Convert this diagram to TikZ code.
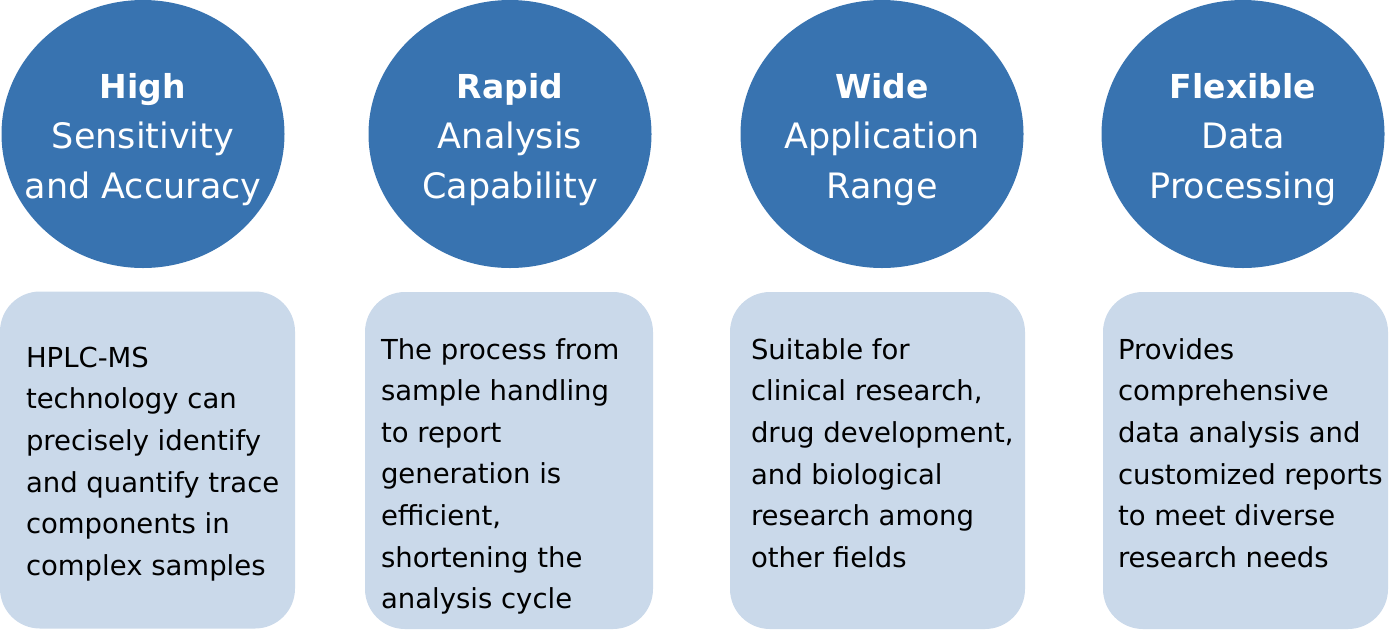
\documentclass[tikz,border=0pt]{standalone}
\usepackage{fontspec}
\setmainfont{DejaVu Sans}
\usetikzlibrary{shapes.geometric}
\definecolor{circblue}{HTML}{3873B0}
\definecolor{cardblue}{HTML}{CAD9EA}
\newcommand{\headword}[1]{{\fontsize{33}{50}\selectfont\bfseries #1}}

\begin{document}
\begin{tikzpicture}[x=1pt,y=-1pt,
  head/.style={ellipse, fill=circblue, minimum width=283pt, minimum height=268pt,
    inner sep=0pt},
  headtext/.style={inner sep=0pt, text=white, align=center, text height=136pt,
    text depth=8pt, font=\fontsize{35}{50}\selectfont},
  card/.style={rectangle, rounded corners=40pt, fill=cardblue, inner sep=0pt,
    minimum height=337pt},
  desc/.style={anchor=base west, align=left, inner sep=0pt,
    font=\fontsize{27.5}{41.6}\selectfont}]
\useasboundingbox (0,0) rectangle (1399,630);
% circles on top
\foreach \i/\cx/\ttl/\rest in {1/143/High/{Sensitivity\\and Accuracy},
    2/510/Rapid/{Analysis\\Capability},
    3/882/Wide/{Application\\Range},
    4/1243/Flexible/{Data\\Processing}}
{
  \node[head] (c\i) at (\cx,134) {};
  \node[headtext] (t\i) at (c\i.center) {\headword{\ttl}\\\rest};
}
% cards below
\node[card, minimum width=295pt] (b1) at (147.5,460) {};
\node[card, minimum width=288pt] (b2) at (509,460.5) {};
\node[card, minimum width=295pt] (b3) at (877.5,460.5) {};
\node[card, minimum width=285pt] (b4) at (1245.5,460.5) {};
% texts sit on their last baseline
\node[desc] (d1) at ([shift={(26,-53.5)}]b1.south west) {HPLC-MS\\technology can\\precisely identify\\and quantify trace\\components in\\complex samples};
\node[desc] (d2) at ([shift={(16,-20.5)}]b2.south west) {The process from\\sample handling\\to report\\generation is\\efficient,\\shortening the\\analysis cycle};
\node[desc] (d3) at ([shift={(21,-62)}]b3.south west) {Suitable for\\clinical research,\\drug development,\\and biological\\research among\\other fields};
\node[desc] (d4) at ([shift={(15,-62)}]b4.south west) {Provides\\comprehensive\\data analysis and\\customized reports\\to meet diverse\\research needs};
\end{tikzpicture}
\end{document}
